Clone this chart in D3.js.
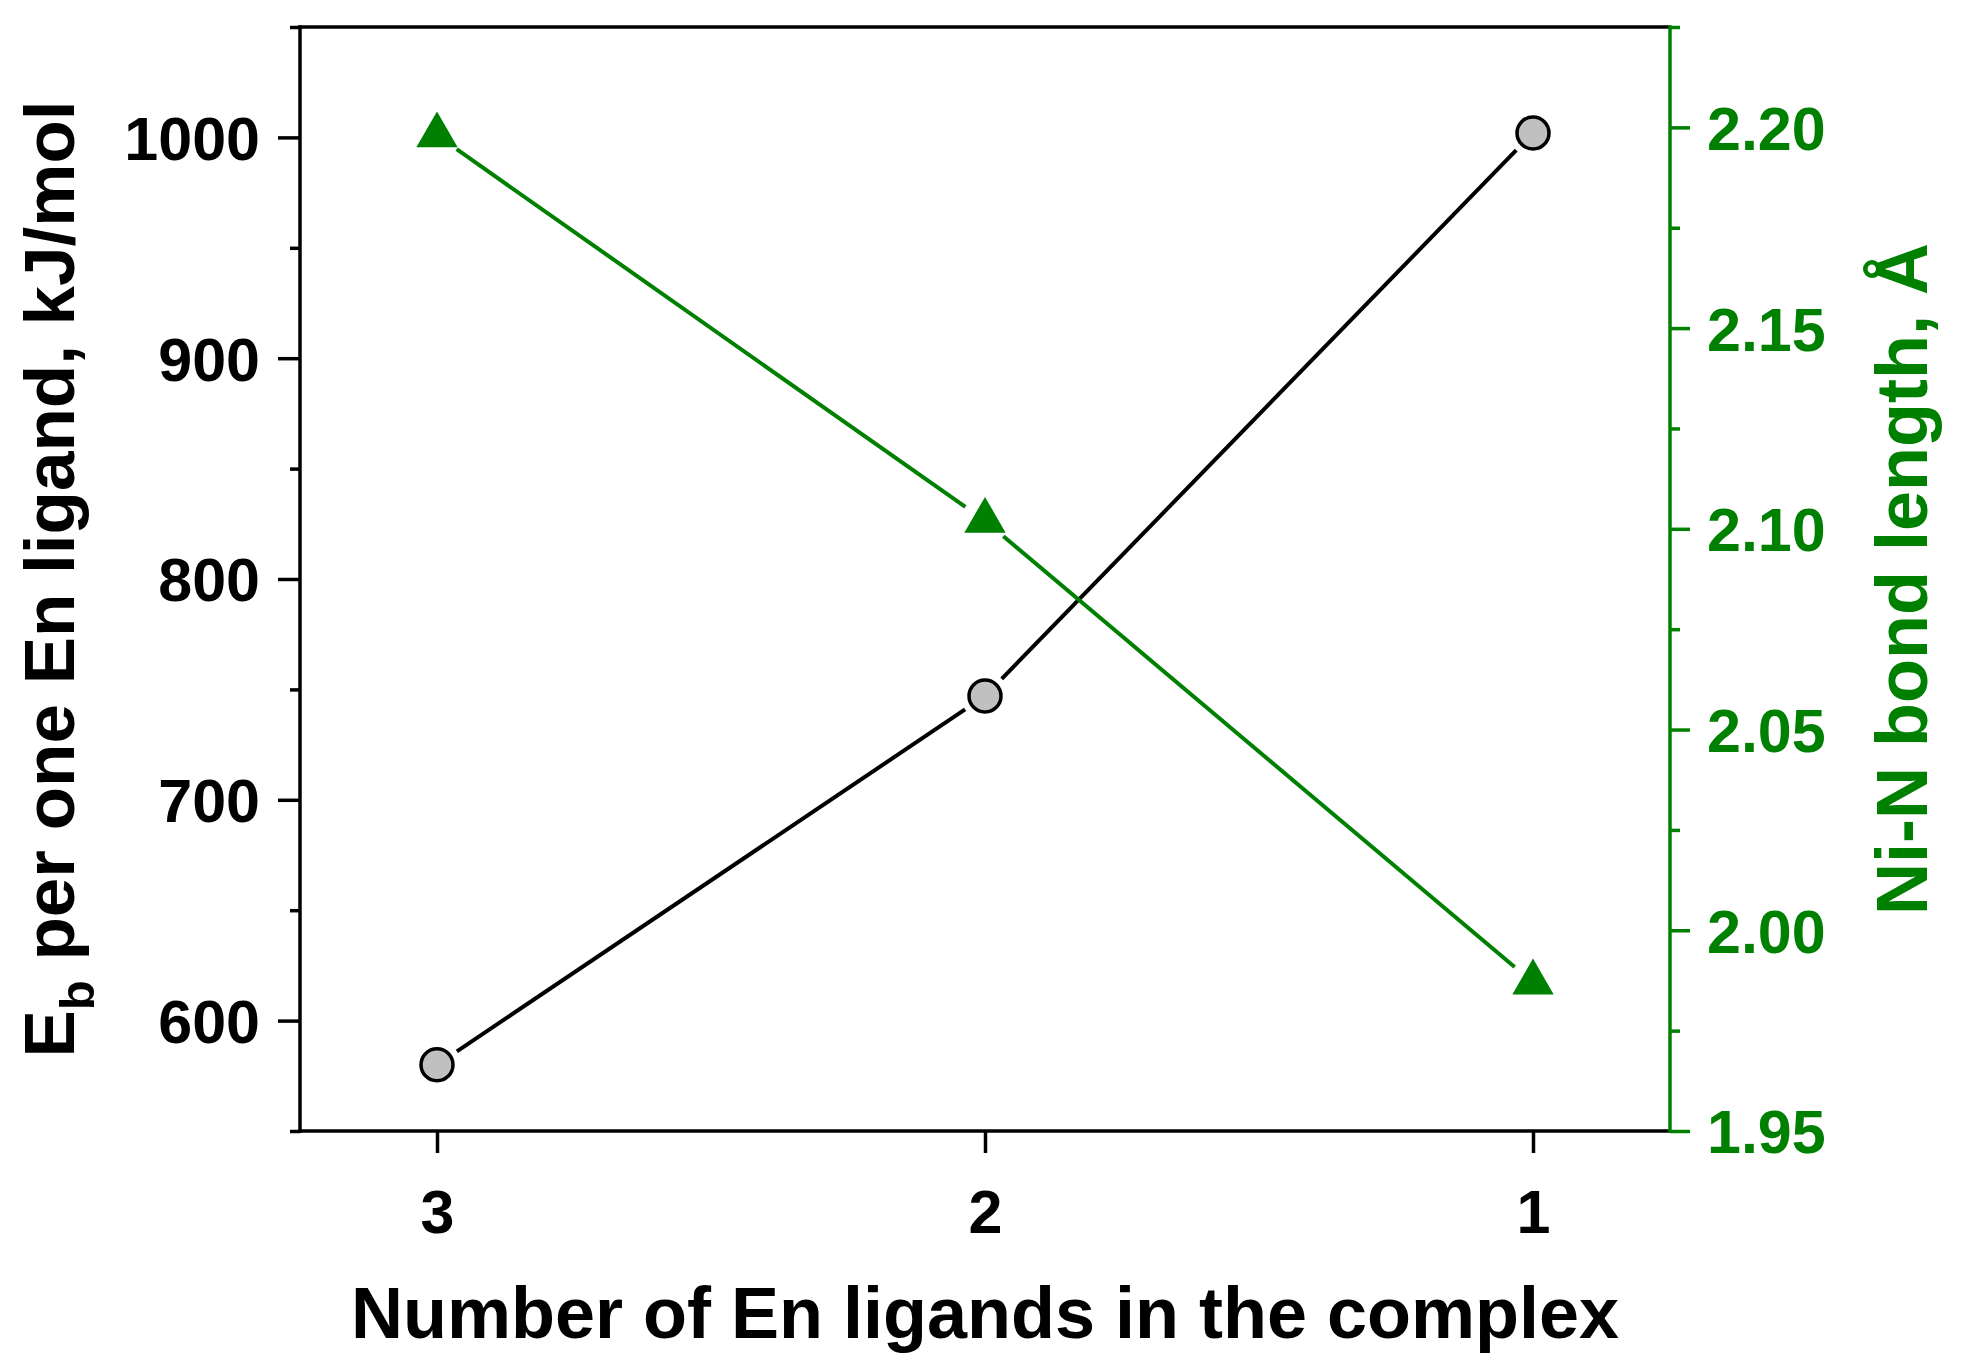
<!DOCTYPE html>
<html>
<head>
<meta charset="utf-8">
<script src="https://cdn.jsdelivr.net/npm/d3@7"></script>
<style>
  body { margin: 0; background: #fff; }
  svg text { font-family: "Liberation Sans", Arial, sans-serif; font-weight: bold; }
</style>
</head>
<body>
<svg id="chart" width="1964" height="1364"></svg>
<script>
// data
var ligands = [3, 2, 1];
var energy = [580, 747, 1002];          // kJ/mol, left axis
var bondLength = [2.198, 2.102, 1.987]; // Angstrom, right axis

var leftTicks = [600, 700, 800, 900, 1000];
var leftMinor = [550, 650, 750, 850, 950, 1050];
var rightTicks = [1.95, 2.00, 2.05, 2.10, 2.15, 2.20];
var rightMinor = [1.975, 2.025, 2.075, 2.125, 2.175, 2.225];

var green = "#008000";
var plot = {left: 300, right: 1670, top: 27, bottom: 1131};

var svg = d3.select("#chart");

var xScale = d3.scaleLinear().domain([3.25, 0.75]).range([plot.left, plot.right]);
var yLeft = d3.scaleLinear().domain([550, 1050]).range([plot.bottom, plot.top]);
var yRight = d3.scaleLinear().domain([1.95, 2.225]).range([plot.bottom, plot.top]);

function styleAxis(g, color) {
  g.select(".domain").remove();
  g.selectAll("line").attr("stroke", color).attr("stroke-width", 3.5);
  g.selectAll("text").attr("fill", color).style("font-size", "61px");
}

// left axis
var gLeft = svg.append("g").attr("transform", "translate(" + plot.left + ",0)");
gLeft.call(d3.axisLeft(yLeft).tickValues(leftTicks).tickSize(22).tickPadding(18)
  .tickFormat(d3.format("d")));
styleAxis(gLeft, "#000");
gLeft.selectAll("text").attr("dy", "0.36em");
var gLeftMinor = svg.append("g").attr("transform", "translate(" + plot.left + ",0)");
gLeftMinor.call(d3.axisLeft(yLeft).tickValues(leftMinor).tickSize(10).tickFormat(""));
styleAxis(gLeftMinor, "#000");

// right axis
var gRight = svg.append("g").attr("transform", "translate(" + plot.right + ",0)");
gRight.call(d3.axisRight(yRight).tickValues(rightTicks).tickSize(20).tickPadding(17)
  .tickFormat(d3.format(".2f")));
styleAxis(gRight, green);
gRight.selectAll("text").attr("dy", "0.36em");
var gRightMinor = svg.append("g").attr("transform", "translate(" + plot.right + ",0)");
gRightMinor.call(d3.axisRight(yRight).tickValues(rightMinor).tickSize(10).tickFormat(""));
styleAxis(gRightMinor, green);

// bottom axis
var gBottom = svg.append("g").attr("transform", "translate(0," + plot.bottom + ")");
gBottom.call(d3.axisBottom(xScale).tickValues(ligands).tickSize(22).tickPadding(37)
  .tickFormat(d3.format("d")));
styleAxis(gBottom, "#000");

// frame lines
svg.append("line").attr("x1", plot.left).attr("x2", plot.left)
  .attr("y1", plot.top - 1.75).attr("y2", plot.bottom + 1.75)
  .attr("stroke", "#000").attr("stroke-width", 3.5);
svg.append("line").attr("x1", plot.left - 1.75).attr("x2", plot.right)
  .attr("y1", plot.bottom).attr("y2", plot.bottom)
  .attr("stroke", "#000").attr("stroke-width", 3.5);
svg.append("line").attr("x1", plot.left - 1.75).attr("x2", plot.right)
  .attr("y1", plot.top).attr("y2", plot.top)
  .attr("stroke", "#000").attr("stroke-width", 3.5);
svg.append("line").attr("x1", plot.right).attr("x2", plot.right)
  .attr("y1", plot.top - 1.75).attr("y2", plot.bottom + 1.75)
  .attr("stroke", green).attr("stroke-width", 3.5);

// line segments with a gap around each marker
function gappedSegments(xs, ys, gap) {
  var segs = [];
  for (var i = 0; i < xs.length - 1; i++) {
    var dx = xs[i + 1] - xs[i], dy = ys[i + 1] - ys[i];
    var len = Math.sqrt(dx * dx + dy * dy);
    var ux = dx / len, uy = dy / len;
    segs.push([[xs[i] + ux * gap, ys[i] + uy * gap],
               [xs[i + 1] - ux * gap, ys[i + 1] - uy * gap]]);
  }
  return segs;
}
var line = d3.line();

var px = ligands.map(function(d) { return xScale(d); });
var pyE = energy.map(function(d) { return yLeft(d); });
var pyB = bondLength.map(function(d) { return yRight(d); });

svg.append("g").selectAll("path")
  .data(gappedSegments(px, pyE, 24))
  .enter().append("path")
  .attr("d", line)
  .attr("stroke", "#000").attr("stroke-width", 4).attr("fill", "none");

svg.append("g").selectAll("circle")
  .data(energy)
  .enter().append("circle")
  .attr("cx", function(d, i) { return xScale(ligands[i]); })
  .attr("cy", function(d) { return yLeft(d); })
  .attr("r", 16)
  .attr("fill", "#c0c0c0")
  .attr("stroke", "#000").attr("stroke-width", 3.5);

svg.append("g").selectAll("path")
  .data(gappedSegments(px, pyB, 24))
  .enter().append("path")
  .attr("d", line)
  .attr("stroke", green).attr("stroke-width", 4).attr("fill", "none");

svg.append("g").selectAll("path")
  .data(bondLength)
  .enter().append("path")
  .attr("d", d3.symbol(d3.symbolTriangle, 740))
  .attr("transform", function(d, i) {
    return "translate(" + xScale(ligands[i]) + "," + yRight(d) + ")";
  })
  .attr("fill", green);

// axis titles
svg.append("text")
  .attr("x", (plot.left + plot.right) / 2)
  .attr("y", 1338)
  .attr("text-anchor", "middle")
  .style("font-size", "72px")
  .text("Number of En ligands in the complex");

var leftTitle = svg.append("text")
  .attr("transform", "translate(74," + (plot.top + plot.bottom) / 2 + ") rotate(-90)")
  .attr("text-anchor", "middle")
  .style("font-size", "71px");
leftTitle.append("tspan").text("E");
leftTitle.append("tspan").attr("dy", 20).style("font-size", "49px").text("b");
leftTitle.append("tspan").attr("dy", -20).text(" per one En ligand, kJ/mol");

svg.append("text")
  .attr("transform", "translate(1927," + (plot.top + plot.bottom) / 2 + ") rotate(-90)")
  .attr("text-anchor", "middle")
  .attr("fill", green)
  .style("font-size", "72px")
  .text("Ni-N bond length, Å");
</script>
</body>
</html>
